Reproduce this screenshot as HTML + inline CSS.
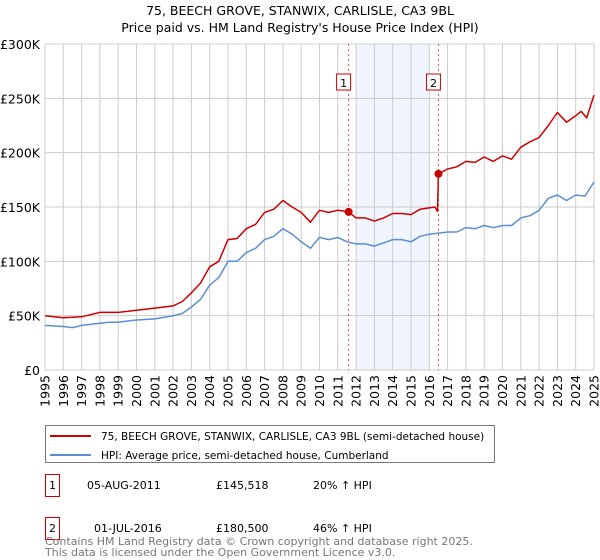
<!DOCTYPE html>
<html><head><meta charset="utf-8"><style>
body{margin:0;background:#fff;font-family:"DejaVu Sans","Liberation Sans",sans-serif;}
#wrap{position:relative;width:600px;height:560px;overflow:hidden;}
svg text{font-family:"DejaVu Sans","Liberation Sans",sans-serif;}
</style></head><body><div id="wrap">
<svg id="chart" width="600" height="560"></svg>
</div>
<script>
const hpiX=[1995,1996,1996.5,1997,1998,1998.5,1999,2000,2001,2002,2002.5,2003,2003.5,2004,2004.5,2005,2005.5,2006,2006.5,2007,2007.5,2008,2008.5,2009,2009.5,2010,2010.5,2011,2011.5,2012,2012.5,2013,2013.5,2014,2014.5,2015,2015.5,2016,2016.5,2017,2017.5,2018,2018.5,2019,2019.5,2020,2020.5,2021,2021.5,2022,2022.5,2023,2023.5,2024,2024.5,2025];
const hpiY=[41,40,39,41,43,44,44,46,47,50,52,58,65,78,85,100,100,108,112,120,123,130,125,118,112,122,120,122,118,116,116,114,117,120,120,118,123,125,126,127,127,131,130,133,131,133,133,140,142,147,158,161,156,161,160,173];
const redX=[1995,1996,1997,1998,1999,2000,2001,2002,2002.5,2003,2003.5,2004,2004.5,2005,2005.5,2006,2006.5,2007,2007.5,2008,2008.5,2009,2009.5,2010,2010.5,2011,2011.59,2012,2012.5,2013,2013.5,2014,2014.5,2015,2015.5,2016.3,2016.45,2016.5,2017,2017.5,2018,2018.5,2019,2019.5,2020,2020.5,2021,2021.5,2022,2022.5,2023,2023.5,2024,2024.3,2024.6,2025];
const redY=[50,48,49,53,53,55,57,59,63,71,80,95,100,120,121,130,134,145,148,156,150,145,136,147,145,147,145.5,140,140,137,140,144,144,143,148,150,146,180.5,185,187,192,191,196,192,197,194,205,210,214,225,237,228,234,238,232,253];
const saleX=[2011.59,2016.5];
const saleY=[145.518,180.5];
const saleLabels=["1","2"];
const yTicks=[0,50,100,150,200,250,300];
const yTickLabels=["£0","£50K","£100K","£150K","£200K","£250K","£300K"];
const years=[];for(let y=1995;y<=2025;y++)years.push(y);

const L=45,R=594,T=44,B=370;
const sx=v=>L+(v-1995)/30*(R-L);
const sy=v=>B-v/300*(B-T);
const svg=document.getElementById('chart');
const NS='http://www.w3.org/2000/svg';
function mk(tag,attrs,parent){const e=document.createElementNS(NS,tag);for(const k in attrs)e.setAttribute(k,attrs[k]);(parent||svg).appendChild(e);return e;}

let t=mk('text',{x:300,y:15,'text-anchor':'middle','font-size':'12.5',fill:'#000'});t.textContent='75, BEECH GROVE, STANWIX, CARLISLE, CA3 9BL';


t=mk('text',{x:300,y:32,'text-anchor':'middle','font-size':'12.5',fill:'#000'});t.textContent="Price paid vs. HM Land Registry's House Price Index (HPI)";



let sh=mk('rect',{x:sx(2012),y:T,width:sx(2016)-sx(2012),height:B-T,fill:'#eef3fc',opacity:'0.8'});



years.forEach(y=>{const l=mk('line',{x1:sx(y),x2:sx(y),y1:T,y2:B,stroke:'#cccccc','stroke-width':1});


const tx=mk('text',{transform:`translate(${sx(y)+4.5},375) rotate(-90)`,'text-anchor':'end','font-size':'12.5',fill:'#000'});tx.textContent=String(y);

});
yTicks.forEach((v,i)=>{const l=mk('line',{x1:L,x2:R,y1:sy(v),y2:sy(v),stroke:'#cccccc','stroke-width':1});


const tx=mk('text',{x:40,y:sy(v)+5,'text-anchor':'end','font-size':'12.5',fill:'#000'});tx.textContent=yTickLabels[i];

});

saleX.forEach((x,i)=>{const l=mk('line',{x1:sx(x),x2:sx(x),y1:T,y2:B,stroke:'#e05050','stroke-width':1,'stroke-dasharray':'2,3'});


const bx=mk('rect',{x:sx(x)-12,y:74,width:14,height:16,fill:'#fff',stroke:'#cc0000','stroke-width':1});


const tx=mk('text',{x:sx(x)-5,y:87,'text-anchor':'middle','font-size':'11',fill:'#000'});tx.textContent=saleLabels[i];

});

function path(xs,ys,col,name){const d=xs.map((x,i)=>(i?'L':'M')+sx(x).toFixed(1)+','+sy(ys[i]).toFixed(1)).join('');
const p=mk('path',{d:d,fill:'none',stroke:col,'stroke-width':1.5,'stroke-linejoin':'round'});

}
path(hpiX,hpiY,'#5b8fd4','hpi-line');
path(redX,redY,'#cc0000','price-paid-line');
saleX.forEach((x,i)=>{const c=mk('circle',{cx:sx(x),cy:sy(saleY[i]),r:4,fill:'#cc0000'});

});

// legend
const lg=mk('rect',{x:45.5,y:425.5,width:449,height:37,fill:'#fff',stroke:'#777','stroke-width':1});


mk('line',{x1:50,x2:91,y1:436,y2:436,stroke:'#cc0000','stroke-width':2});
t=mk('text',{x:101,y:440,'font-size':'10.5',fill:'#000'});t.textContent='75, BEECH GROVE, STANWIX, CARLISLE, CA3 9BL (semi-detached house)';


mk('line',{x1:50,x2:91,y1:455,y2:455,stroke:'#5b8fd4','stroke-width':2});
t=mk('text',{x:101,y:459,'font-size':'10.5',fill:'#000'});t.textContent='HPI: Average price, semi-detached house, Cumberland';



const rows=[["1","05-AUG-2011","£145,518","20% ↑ HPI",496],["2","01-JUL-2016","£180,500","46% ↑ HPI",539]];
rows.forEach(r=>{const b=mk('rect',{x:45.5,y:r[4]-21.5,width:14,height:22,fill:'#fff',stroke:'#cc0000','stroke-width':1});


let a=mk('text',{x:52.5,y:r[4]-7,'text-anchor':'middle','font-size':'11',fill:'#000'});a.textContent=r[0];


a=mk('text',{x:r[0]=="1"?87:94,y:r[4]-7,'font-size':'11',fill:'#000'});a.textContent=r[1];


a=mk('text',{x:216,y:r[4]-7,'font-size':'11',fill:'#000'});a.textContent=r[2];


a=mk('text',{x:313,y:r[4]-7,'font-size':'11',fill:'#000'});a.textContent=r[3];

});
t=mk('text',{x:45,y:545,'font-size':'11',fill:'#777'});t.textContent='Contains HM Land Registry data © Crown copyright and database right 2025.';


t=mk('text',{x:45,y:556,'font-size':'11',fill:'#777'});t.textContent='This data is licensed under the Open Government Licence v3.0.';


</script></body></html>
